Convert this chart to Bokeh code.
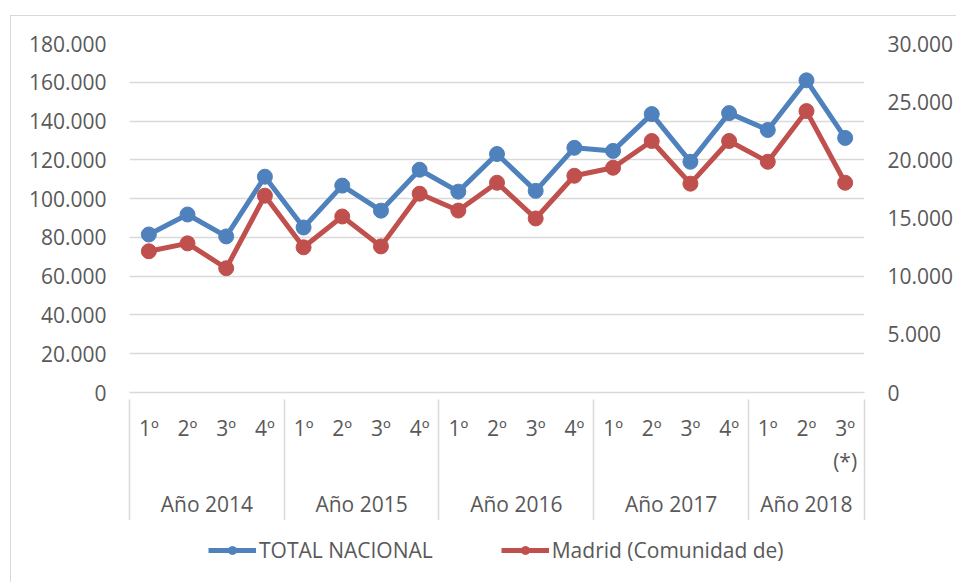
from bokeh.plotting import figure
from bokeh.layouts import column
from bokeh.models import Range1d, LinearAxis, FixedTicker, Legend, LegendItem, ColumnDataSource
from bokeh.embed import file_html
from bokeh.resources import INLINE

years = ["Año 2014", "Año 2015", "Año 2016", "Año 2017", "Año 2018"]
quarters = [["1º", "2º", "3º", "4º"], ["1º", "2º", "3º", "4º"], ["1º", "2º", "3º", "4º"],
            ["1º", "2º", "3º", "4º"], ["1º", "2º", "3º\n(*)"]]
total_nacional = [81500, 91800, 80500, 111300, 85100, 106700, 93800, 114900, 103600, 123000,
                  104000, 126200, 124600, 143600, 119000, 144100, 135400, 161000, 131300]
madrid = [12140, 12820, 10680, 16920, 12480, 15130, 12560, 17090, 15640, 18030,
          14960, 18630, 19320, 21620, 17950, 21620, 19830, 24190, 18030]
left_ticks = [0, 20000, 40000, 60000, 80000, 100000, 120000, 140000, 160000, 180000]
left_labels = ["0", "20.000", "40.000", "60.000", "80.000", "100.000", "120.000", "140.000", "160.000", "180.000"]
right_ticks = [0, 5000, 10000, 15000, 20000, 25000, 30000]
right_labels = ["0", "5.000", "10.000", "15.000", "20.000", "25.000", "30.000"]
series_names = ["TOTAL NACIONAL", "Madrid (Comunidad de)"]

BLUE = "#4f81bd"
RED = "#c0504d"
GRID = "#d9d9d9"
TXT = "#595959"
FONT = "Open Sans"
FS = "21px"

# flatten categories to positions
q_labels = []
year_centers = []
bounds = [-0.5]
idx = 0
for y, qs in zip(years, quarters):
    start = idx
    for q in qs:
        q_labels.append(q)
        idx += 1
    year_centers.append((start + idx - 1) / 2)
    bounds.append(idx - 0.5)
xs = list(range(len(q_labels)))

src = ColumnDataSource(dict(x=xs, total=total_nacional, madrid=madrid))

p = figure(width=945, height=504, output_backend="svg", toolbar_location=None,
           x_range=Range1d(-0.5, len(q_labels) - 0.5), y_range=Range1d(0, 180000),
           min_border_left=118, min_border_right=92, min_border_top=27, min_border_bottom=126,
           background_fill_color="white", border_fill_color="white")
p.outline_line_color = None
p.extra_y_ranges = {"right": Range1d(0, 30000)}

# grid
p.xgrid.visible = False
p.ygrid.ticker = FixedTicker(ticks=left_ticks)
p.ygrid.grid_line_color = GRID
p.ygrid.grid_line_width = 1.5

def style_axis(ax):
    ax.major_label_text_font = FONT
    ax.major_label_text_font_size = FS
    ax.major_label_text_color = TXT
    ax.major_tick_line_color = None
    ax.minor_tick_line_color = None
    ax.major_tick_out = 0
    ax.major_tick_in = 0
    ax.minor_tick_out = 0
    ax.minor_tick_in = 0

# left axis
ya = p.yaxis[0]
ya.ticker = FixedTicker(ticks=left_ticks)
ya.major_label_overrides = {t: l for t, l in zip(left_ticks, left_labels)}
ya.axis_line_color = None
style_axis(ya)
ya.major_label_standoff = 23

# right axis
ra = LinearAxis(y_range_name="right", ticker=FixedTicker(ticks=right_ticks))
ra.major_label_overrides = {t: l for t, l in zip(right_ticks, right_labels)}
ra.axis_line_color = None
style_axis(ra)
ra.major_label_standoff = 23
p.add_layout(ra, "right")

# quarter axis
xa = p.xaxis[0]
xa.ticker = FixedTicker(ticks=xs)
xa.major_label_overrides = {i: l for i, l in enumerate(q_labels)}
xa.axis_line_color = GRID
xa.axis_line_width = 1.5
style_axis(xa)
xa.major_label_standoff = 21

# year axis
yr = LinearAxis(ticker=FixedTicker(ticks=year_centers))
yr.major_label_overrides = {c: y for c, y in zip(year_centers, years)}
yr.axis_line_color = None
style_axis(yr)
yr.major_label_standoff = 11
p.add_layout(yr, "below")

# separator axis: ticks at group boundaries, pointing up through the label rows
sep = LinearAxis(ticker=FixedTicker(ticks=bounds))
sep.major_label_overrides = {b: "" for b in bounds}
style_axis(sep)
sep.major_label_text_font_size = "0px"
sep.major_label_standoff = 0
sep.axis_line_color = None
sep.major_tick_line_color = GRID
sep.major_tick_line_width = 1.5
sep.major_tick_in = 121
p.add_layout(sep, "below")

# series
lb = p.line("x", "total", source=src, line_color=BLUE, line_width=5)
cb = p.scatter("x", "total", source=src, size=15, fill_color=BLUE, line_color=BLUE)
lr = p.line("x", "madrid", source=src, line_color=RED, line_width=5, y_range_name="right")
cr = p.scatter("x", "madrid", source=src, size=15, fill_color=RED, line_color=RED, y_range_name="right")

# legend strip below the chart (same series, drawn outside this strip's visible ranges)
pl = figure(width=945, height=62, output_backend="svg", toolbar_location=None,
            x_range=Range1d(1000, 1001), y_range=Range1d(-2, -1),
            x_axis_location=None, y_axis_location=None,
            min_border_left=0, min_border_right=0, min_border_top=0, min_border_bottom=0,
            background_fill_color="white", border_fill_color="white")
pl.outline_line_color = None
pl.grid.visible = False
k1 = pl.line("x", "total", source=src, line_color=BLUE, line_width=5)
k2 = pl.scatter("x", "total", source=src, size=15, fill_color=BLUE, line_color=BLUE)
k3 = pl.line("x", "madrid", source=src, line_color=RED, line_width=5)
k4 = pl.scatter("x", "madrid", source=src, size=15, fill_color=RED, line_color=RED)

legend = Legend(items=[LegendItem(label=series_names[0], renderers=[k1, k2]),
                       LegendItem(label=series_names[1], renderers=[k3, k4])],
                orientation="horizontal", location=(79, 18),
                label_text_font=FONT, label_text_font_size=FS, label_text_color=TXT,
                glyph_width=48, glyph_height=20, label_standoff=3, spacing=68,
                border_line_color=None, background_fill_alpha=0, padding=4, margin=0)
pl.add_layout(legend)

layout = column(p, pl, spacing=0)
layout.styles = {"margin-left": "10px", "margin-top": "15px",
                 "border-left": "1px solid #d9d9d9", "border-top": "1px solid #d9d9d9"}

open("out.html", "w").write(file_html(layout, INLINE))
